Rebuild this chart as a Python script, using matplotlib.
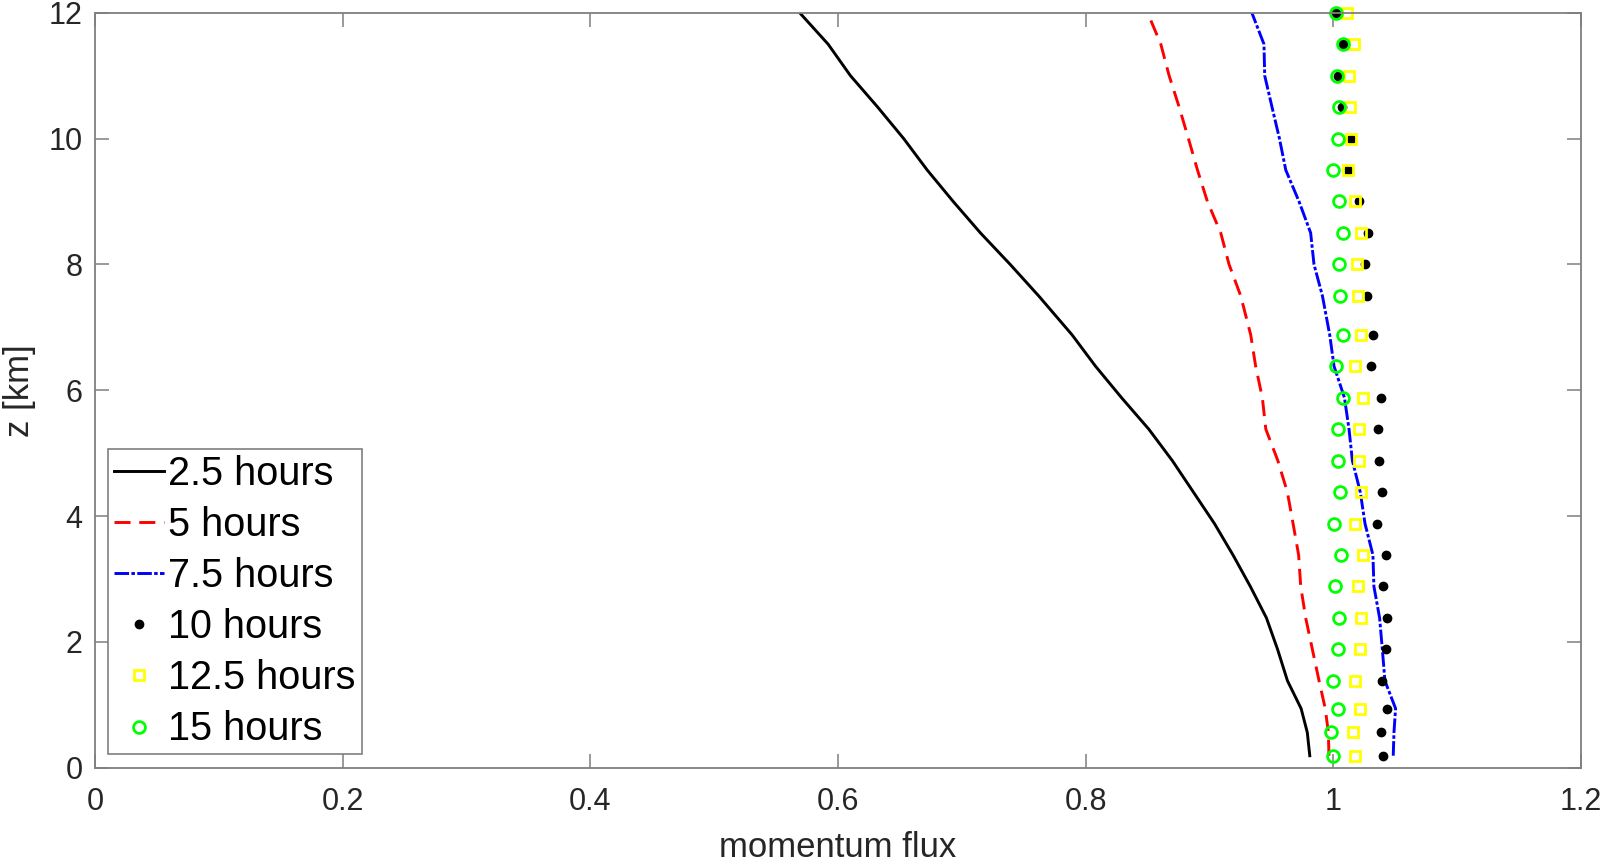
import matplotlib
matplotlib.use('Agg')
import matplotlib.pyplot as plt

plt.rcParams['font.family'] = ['Liberation Sans', 'DejaVu Sans']

# heights [km]
z_km = [0.19, 0.56, 0.94, 1.38, 1.88, 2.38, 2.88, 3.38, 3.88, 4.38, 4.88, 5.38, 5.88,
        6.38, 6.88, 7.5, 8.0, 8.5, 9.0, 9.5, 10.0, 10.5, 11.0, 11.5, 12.0]

# momentum flux profiles at each output time
flux_2_5h = [0.981, 0.979, 0.974, 0.963, 0.955, 0.946, 0.933, 0.919, 0.904, 0.887, 0.870, 0.851, 0.829,
             0.808, 0.789, 0.762, 0.739, 0.715, 0.693, 0.672, 0.653, 0.632, 0.610, 0.592, 0.569]
flux_5h = [0.9965, 0.9960, 0.9935, 0.9885, 0.9831, 0.9777, 0.9737, 0.9720, 0.9675, 0.9629, 0.9552, 0.9455, 0.9427,
           0.9373, 0.9333, 0.9252, 0.9158, 0.9091, 0.8983, 0.8903, 0.8830, 0.8755, 0.8674, 0.8607, 0.8500]
flux_7_5h = [1.0484, 1.0490, 1.0503, 1.0417, 1.0396, 1.0374, 1.0328, 1.0320, 1.0256, 1.0218, 1.0154, 1.0127, 1.0090,
             1.0006, 0.9971, 0.9912, 0.9844, 0.9817, 0.9723, 0.9616, 0.9565, 0.9505, 0.9446, 0.9440, 0.9342]
flux_10h = [1.0399, 1.0383, 1.0431, 1.0390, 1.0425, 1.0436, 1.0401, 1.0428, 1.0355, 1.0390, 1.0366, 1.0358, 1.0383,
            1.0302, 1.0320, 1.0274, 1.0253, 1.0277, 1.0207, 1.0121, 1.0143, 1.0068, 1.0041, 1.0077, 1.0025]
flux_12_5h = [1.0178, 1.0159, 1.0218, 1.0175, 1.0218, 1.0226, 1.0202, 1.0242, 1.0175, 1.0226, 1.0207, 1.0207, 1.0242,
              1.0178, 1.0226, 1.0202, 1.0189, 1.0221, 1.0178, 1.0121, 1.0145, 1.0137, 1.0124, 1.0164, 1.0108]
flux_15h = [0.9998, 0.9984, 1.0038, 0.9998, 1.0038, 1.0044, 1.0016, 1.0065, 1.0008, 1.0057, 1.0038, 1.0038, 1.0076,
            1.0020, 1.0077, 1.0058, 1.0044, 1.0081, 1.0046, 0.9998, 1.0041, 1.0046, 1.0033, 1.0077, 1.0025]

labels = ['2.5 hours', '5 hours', '7.5 hours', '10 hours', '12.5 hours', '15 hours']
x_ticks = [0, 0.2, 0.4, 0.6, 0.8, 1.0, 1.2]
x_ticklabels = ['0', '0.2', '0.4', '0.6', '0.8', '1', '1.2']
y_ticks = [0, 2, 4, 6, 8, 10, 12]

fig = plt.figure(figsize=(16.06, 8.64), dpi=100)
ax = fig.add_axes([0.0592, 0.1115, 0.9252, 0.8738])

ax.plot(flux_2_5h, z_km, color='k', lw=2.1, label=labels[0])
ax.plot(flux_5h, z_km, color='r', lw=2.1, dashes=(5.5, 3), label=labels[1])
ax.plot(flux_7_5h, z_km, color='b', lw=2.1, dashes=(5, 0.8, 1.2, 0.8), label=labels[2])
ax.plot(flux_10h, z_km, ls='none', marker='o', ms=6, mfc='k', mec='k', label=labels[3], clip_on=False)
ax.plot(flux_12_5h, z_km, ls='none', marker='s', ms=7, mfc='none', mec=(1, 1, 0), mew=2,
        label=labels[4], clip_on=False)
ax.plot(flux_15h, z_km, ls='none', marker='o', ms=8.5, mfc='none', mec=(0, 1, 0), mew=2,
        label=labels[5], clip_on=False)

ax.set_xlim(0, 1.2)
ax.set_ylim(0, 12)
ax.set_xticks(x_ticks)
ax.set_xticklabels(x_ticklabels)
ax.set_yticks(y_ticks)

grey = '#7f7f7f'
for s in ax.spines.values():
    s.set_color(grey)
    s.set_linewidth(1.3)
ax.tick_params(direction='in', length=10, width=1.1, color=grey, labelcolor='#262626',
               labelsize=22, top=True, right=True)
ax.tick_params(axis='x', pad=14)
ax.tick_params(axis='y', pad=9)

ax.set_xlabel('momentum flux', fontsize=25, color='#262626', labelpad=10)
ax.set_ylabel('z [km]', fontsize=25, color='#262626', labelpad=9)

leg = ax.legend(loc='lower left', bbox_to_anchor=(0.0085, 0.0177), borderaxespad=0,
                fontsize=28.5, fancybox=False, framealpha=1, edgecolor=grey,
                handlelength=1.26, handletextpad=0.12, labelspacing=0.33, borderpad=0.15)
leg.get_frame().set_linewidth(1.2)

fig.savefig('out.png', dpi=100)
